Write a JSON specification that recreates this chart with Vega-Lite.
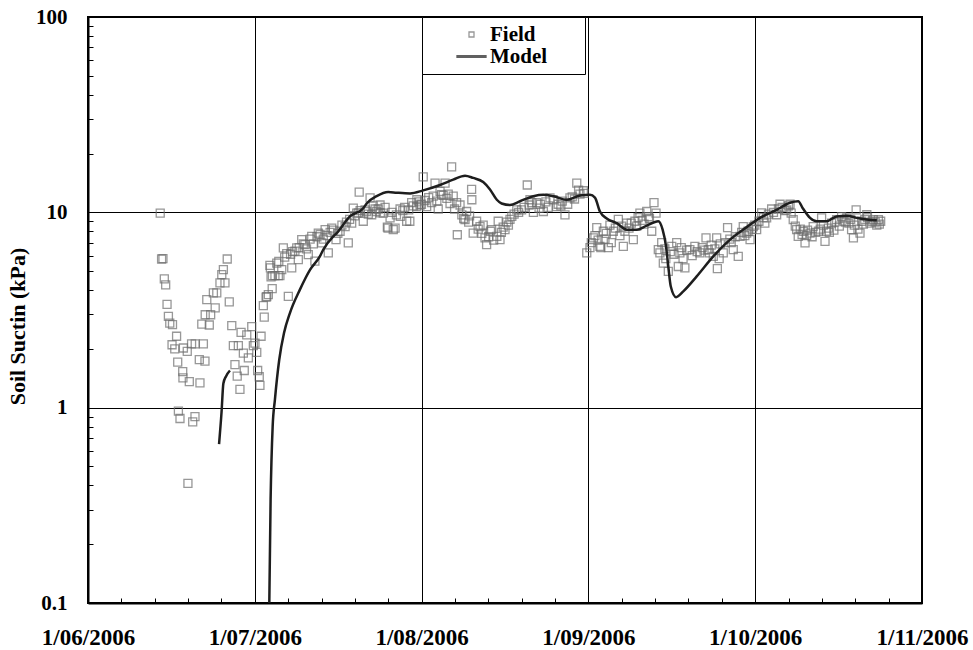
{
  "$schema": "https://vega.github.io/schema/vega-lite/v6.json",
  "width": 834,
  "height": 586,
  "autosize": {"type": "none"},
  "padding": {"left": 88, "top": 17, "right": 51, "bottom": 47},
  "background": "white",
  "config": {
    "view": {"stroke": "black", "strokeWidth": 2},
    "font": "Liberation Serif",
    "axis": {
      "labelFont": "Liberation Serif", "labelFontWeight": "bold", "labelColor": "black",
      "titleFont": "Liberation Serif", "titleFontWeight": "bold", "titleColor": "black",
      "domainColor": "black", "domainWidth": 2, "tickColor": "black", "tickWidth": 1,
      "gridColor": "black", "gridWidth": 1
    },
    "legend": {
      "orient": "none", "legendX": 334, "legendY": 0,
      "title": null,
      "strokeColor": "black", "fillColor": "white",
      "padding": 7,
      "symbolSize": 25,
      "symbolStrokeWidth": 1.3,
      "symbolOffset": 32,
      "labelOffset": 8,
      "rowPadding": 0,
      "labelFont": "Liberation Serif", "labelFontWeight": "bold", "labelFontSize": 21, "labelColor": "black",
      "labelLimit": 0
    }
  },
  "datasets": {
    "field": [
      {"t":"2006-06-14T06:00Z","s":9.9},{"t":"2006-06-14T12:00Z","s":5.77},{"t":"2006-06-14T18:00Z","s":5.8},{"t":"2006-06-15T00:00Z","s":4.56},{"t":"2006-06-15T06:00Z","s":4.25},{"t":"2006-06-15T12:00Z","s":3.38},{"t":"2006-06-15T18:00Z","s":2.93},{"t":"2006-06-16T00:00Z","s":2.71},{"t":"2006-06-16T12:00Z","s":2.66},{"t":"2006-06-16T10:00Z","s":2.1},{"t":"2006-06-16T22:00Z","s":2.0},{"t":"2006-06-17T06:00Z","s":2.32},{"t":"2006-06-17T11:00Z","s":1.71},{"t":"2006-06-17T14:00Z","s":0.96},{"t":"2006-06-17T21:00Z","s":0.88},{"t":"2006-06-18T09:00Z","s":1.53},{"t":"2006-06-18T10:00Z","s":1.42},{"t":"2006-06-18T12:00Z","s":2.02},{"t":"2006-06-19T05:00Z","s":1.94},{"t":"2006-06-19T08:00Z","s":0.41},{"t":"2006-06-19T14:00Z","s":1.36},{"t":"2006-06-20T00:00Z","s":2.12},{"t":"2006-06-20T05:00Z","s":0.845},{"t":"2006-06-20T15:00Z","s":0.9},{"t":"2006-06-20T16:00Z","s":2.12},{"t":"2006-06-21T10:00Z","s":1.76},{"t":"2006-06-21T13:00Z","s":1.34},{"t":"2006-06-21T21:00Z","s":2.68},{"t":"2006-06-22T04:00Z","s":2.12},{"t":"2006-06-22T11:00Z","s":1.73},{"t":"2006-06-22T12:00Z","s":2.99},{"t":"2006-06-22T19:00Z","s":3.57},{"t":"2006-06-23T06:00Z","s":2.65},{"t":"2006-06-23T12:00Z","s":2.99},{"t":"2006-06-24T00:00Z","s":3.87},{"t":"2006-06-24T08:00Z","s":3.24},{"t":"2006-06-24T15:00Z","s":3.87},{"t":"2006-06-25T05:00Z","s":4.35},{"t":"2006-06-25T13:00Z","s":4.8},{"t":"2006-06-25T20:00Z","s":5.09},{"t":"2006-06-26T03:00Z","s":4.35},{"t":"2006-06-26T13:00Z","s":5.77},{"t":"2006-06-26T22:00Z","s":3.48},{"t":"2006-06-27T09:00Z","s":2.63},{"t":"2006-06-27T16:00Z","s":2.08},{"t":"2006-06-27T23:00Z","s":1.66},{"t":"2006-06-28T09:00Z","s":1.45},{"t":"2006-06-28T14:00Z","s":2.08},{"t":"2006-06-28T21:00Z","s":1.24},{"t":"2006-06-29T02:00Z","s":2.43},{"t":"2006-06-29T12:00Z","s":1.9},{"t":"2006-06-29T16:00Z","s":1.55},{"t":"2006-06-30T03:00Z","s":2.36},{"t":"2006-06-30T10:00Z","s":1.8},
      {"t":"2006-07-01T01:00Z","s":2.6},{"t":"2006-07-01T08:00Z","s":2.08},{"t":"2006-07-01T15:00Z","s":2.14},{"t":"2006-07-01T23:00Z","s":1.92},{"t":"2006-07-02T03:00Z","s":1.55},{"t":"2006-07-02T10:00Z","s":1.44},{"t":"2006-07-02T13:00Z","s":1.3},{"t":"2006-07-02T18:00Z","s":2.32},{"t":"2006-07-03T04:00Z","s":3.33},{"t":"2006-07-03T08:00Z","s":2.91},{"t":"2006-07-03T16:00Z","s":3.68},{"t":"2006-07-03T19:00Z","s":3.7},{"t":"2006-07-04T02:00Z","s":3.79},{"t":"2006-07-04T09:00Z","s":5.35},{"t":"2006-07-04T11:00Z","s":5.2},{"t":"2006-07-04T14:00Z","s":4.67},{"t":"2006-07-04T19:00Z","s":4.07},{"t":"2006-07-04T20:00Z","s":4.74},{"t":"2006-07-05T07:00Z","s":4.74},{"t":"2006-07-05T15:00Z","s":5.5},{"t":"2006-07-05T22:00Z","s":4.74},{"t":"2006-07-06T05:00Z","s":4.74},{"t":"2006-07-06T13:00Z","s":5.09},{"t":"2006-07-06T20:00Z","s":6.57},{"t":"2006-07-07T11:00Z","s":6.14},{"t":"2006-07-07T18:00Z","s":3.71},{"t":"2006-07-08T09:00Z","s":5.19},{"t":"2006-07-08T13:00Z","s":6.3},{"t":"2006-07-08T23:00Z","s":6.33},{"t":"2006-07-09T07:00Z","s":6.57},{"t":"2006-07-09T14:00Z","s":5.72},{"t":"2006-07-10T05:00Z","s":7.25},{"t":"2006-07-10T19:00Z","s":6.83},{"t":"2006-07-11T10:00Z","s":6.07},{"t":"2006-07-12T01:00Z","s":7.54},{"t":"2006-07-12T15:00Z","s":5.63},{"t":"2006-07-13T06:00Z","s":7.83},{"t":"2006-07-13T21:00Z","s":6.97},{"t":"2006-07-14T12:00Z","s":8.15},{"t":"2006-07-15T02:00Z","s":6.2},{"t":"2006-07-15T17:00Z","s":8.3},{"t":"2006-07-16T12:00Z","s":7.25},{"t":"2006-07-17T06:00Z","s":8.0},{"t":"2006-07-18T04:00Z","s":8.45},{"t":"2006-07-18T18:00Z","s":6.97},{"t":"2006-07-19T09:00Z","s":8.8},{"t":"2006-07-19T16:00Z","s":10.5},{"t":"2006-07-20T07:00Z","s":9.9},{"t":"2006-07-20T14:00Z","s":9.93},{"t":"2006-07-20T18:00Z","s":12.7},{"t":"2006-07-21T12:00Z","s":9.0},{"t":"2006-07-22T03:00Z","s":10.1},{"t":"2006-07-22T18:00Z","s":11.85},{"t":"2006-07-23T01:00Z","s":9.72},{"t":"2006-07-23T08:00Z","s":10.8},{"t":"2006-07-23T16:00Z","s":10.4},{"t":"2006-07-24T14:00Z","s":10.9},{"t":"2006-07-24T15:00Z","s":9.93},{"t":"2006-07-25T04:00Z","s":9.9},{"t":"2006-07-25T22:00Z","s":8.4},{"t":"2006-07-26T01:00Z","s":8.3},{"t":"2006-07-26T10:00Z","s":9.36},{"t":"2006-07-27T00:00Z","s":8.15},{"t":"2006-07-27T08:00Z","s":8.3},{"t":"2006-07-28T06:00Z","s":10.4},{"t":"2006-07-28T07:00Z","s":9.53},{"t":"2006-07-29T11:00Z","s":9.0},{"t":"2006-07-30T01:00Z","s":9.0},{"t":"2006-07-30T09:00Z","s":11.2},{"t":"2006-07-31T07:00Z","s":10.7},{"t":"2006-07-31T08:00Z","s":11.6},{"t":"2006-07-31T22:00Z","s":10.9},
      {"t":"2006-07-06T00:00Z","s":5.6},{"t":"2006-07-07T02:00Z","s":5.9},{"t":"2006-07-08T04:00Z","s":6.1},{"t":"2006-07-09T18:00Z","s":6.6},{"t":"2006-07-10T12:00Z","s":6.9},{"t":"2006-07-11T02:00Z","s":6.5},{"t":"2006-07-11T18:00Z","s":7.3},{"t":"2006-07-12T08:00Z","s":6.9},{"t":"2006-07-13T00:00Z","s":7.5},{"t":"2006-07-13T14:00Z","s":7.7},{"t":"2006-07-14T04:00Z","s":7.3},{"t":"2006-07-14T20:00Z","s":7.6},{"t":"2006-07-15T10:00Z","s":7.9},{"t":"2006-07-16T00:00Z","s":8.1},{"t":"2006-07-16T20:00Z","s":7.8},{"t":"2006-07-17T14:00Z","s":8.6},{"t":"2006-07-18T10:00Z","s":8.9},{"t":"2006-07-19T00:00Z","s":9.2},{"t":"2006-07-19T22:00Z","s":9.6},{"t":"2006-07-20T22:00Z","s":10.2},{"t":"2006-07-21T20:00Z","s":10.3},{"t":"2006-07-22T10:00Z","s":9.8},{"t":"2006-07-23T22:00Z","s":10.1},{"t":"2006-07-24T06:00Z","s":10.4},{"t":"2006-07-25T12:00Z","s":10.6},{"t":"2006-07-26T18:00Z","s":10.0},{"t":"2006-07-27T14:00Z","s":9.7},{"t":"2006-07-28T18:00Z","s":10.2},{"t":"2006-07-29T02:00Z","s":10.6},{"t":"2006-07-29T20:00Z","s":10.3},{"t":"2006-07-30T16:00Z","s":10.8},{"t":"2006-07-31T16:00Z","s":11.3},
      {"t":"2006-08-01T12:00Z","s":15.2},{"t":"2006-08-02T03:00Z","s":10.7},{"t":"2006-08-03T01:00Z","s":11.2},{"t":"2006-08-03T16:00Z","s":14.1},{"t":"2006-08-04T06:00Z","s":10.4},{"t":"2006-08-04T21:00Z","s":12.3},{"t":"2006-08-05T12:00Z","s":14.1},{"t":"2006-08-06T02:00Z","s":12.4},{"t":"2006-08-06T17:00Z","s":17.1},{"t":"2006-08-07T00:00Z","s":12.1},{"t":"2006-08-07T15:00Z","s":11.2},{"t":"2006-08-07T18:00Z","s":7.68},{"t":"2006-08-08T06:00Z","s":10.9},{"t":"2006-08-09T04:00Z","s":9.18},{"t":"2006-08-09T11:00Z","s":10.1},{"t":"2006-08-10T09:00Z","s":13.1},{"t":"2006-08-10T10:00Z","s":11.6},{"t":"2006-08-10T16:00Z","s":7.83},{"t":"2006-08-11T07:00Z","s":9.0},{"t":"2006-08-11T22:00Z","s":8.45},{"t":"2006-08-12T20:00Z","s":7.4},{"t":"2006-08-13T03:00Z","s":6.83},{"t":"2006-08-14T01:00Z","s":8.15},{"t":"2006-08-15T00:00Z","s":7.54},{"t":"2006-08-15T06:00Z","s":9.0},{"t":"2006-08-15T14:00Z","s":7.25},{"t":"2006-08-16T12:00Z","s":8.15},{"t":"2006-08-17T03:00Z","s":8.6},{"t":"2006-08-17T18:00Z","s":9.53},{"t":"2006-08-18T16:00Z","s":10.3},{"t":"2006-08-19T13:00Z","s":10.3},{"t":"2006-08-20T14:00Z","s":13.8},{"t":"2006-08-21T02:00Z","s":11.6},{"t":"2006-08-21T17:00Z","s":10.0},{"t":"2006-08-22T07:00Z","s":11.2},{"t":"2006-08-23T13:00Z","s":10.1},{"t":"2006-08-24T18:00Z","s":11.85},{"t":"2006-08-25T23:00Z","s":10.7},{"t":"2006-08-27T12:00Z","s":9.7},{"t":"2006-08-28T10:00Z","s":11.85},{"t":"2006-08-29T16:00Z","s":14.1},{"t":"2006-08-30T06:00Z","s":12.4},{"t":"2006-08-30T21:00Z","s":12.9},{"t":"2006-08-31T12:00Z","s":6.2},
      {"t":"2006-08-01T04:00Z","s":11.0},{"t":"2006-08-01T20:00Z","s":11.5},{"t":"2006-08-02T12:00Z","s":11.9},{"t":"2006-08-03T08:00Z","s":12.1},{"t":"2006-08-04T00:00Z","s":11.4},{"t":"2006-08-04T14:00Z","s":12.8},{"t":"2006-08-05T04:00Z","s":12.2},{"t":"2006-08-05T20:00Z","s":11.8},{"t":"2006-08-06T10:00Z","s":11.1},{"t":"2006-08-07T06:00Z","s":10.4},{"t":"2006-08-08T14:00Z","s":9.7},{"t":"2006-08-08T22:00Z","s":9.3},{"t":"2006-08-09T20:00Z","s":8.9},{"t":"2006-08-10T00:00Z","s":9.6},{"t":"2006-08-11T14:00Z","s":8.2},{"t":"2006-08-12T06:00Z","s":7.8},{"t":"2006-08-12T12:00Z","s":8.6},{"t":"2006-08-13T12:00Z","s":7.5},{"t":"2006-08-13T20:00Z","s":8.0},{"t":"2006-08-14T10:00Z","s":7.2},{"t":"2006-08-15T20:00Z","s":7.9},{"t":"2006-08-16T04:00Z","s":8.4},{"t":"2006-08-16T20:00Z","s":8.9},{"t":"2006-08-17T10:00Z","s":9.2},{"t":"2006-08-18T04:00Z","s":9.8},{"t":"2006-08-19T00:00Z","s":10.0},{"t":"2006-08-20T00:00Z","s":10.6},{"t":"2006-08-20T22:00Z","s":10.9},{"t":"2006-08-21T10:00Z","s":11.2},{"t":"2006-08-22T18:00Z","s":10.5},{"t":"2006-08-23T00:00Z","s":11.0},{"t":"2006-08-24T00:00Z","s":11.3},{"t":"2006-08-24T10:00Z","s":10.6},{"t":"2006-08-25T08:00Z","s":11.6},{"t":"2006-08-26T06:00Z","s":11.0},{"t":"2006-08-26T18:00Z","s":10.8},{"t":"2006-08-27T00:00Z","s":11.4},{"t":"2006-08-28T00:00Z","s":11.0},{"t":"2006-08-28T20:00Z","s":12.0},{"t":"2006-08-29T06:00Z","s":11.7},{"t":"2006-08-30T00:00Z","s":13.0},{"t":"2006-08-31T00:00Z","s":12.5},
      {"t":"2006-09-01T02:00Z","s":6.6},{"t":"2006-09-01T17:00Z","s":7.4},{"t":"2006-09-02T08:00Z","s":8.35},{"t":"2006-09-02T22:00Z","s":6.7},{"t":"2006-09-03T02:00Z","s":6.6},{"t":"2006-09-03T13:00Z","s":8.0},{"t":"2006-09-04T11:00Z","s":6.6},{"t":"2006-09-04T18:00Z","s":8.6},{"t":"2006-09-05T09:00Z","s":8.0},{"t":"2006-09-06T07:00Z","s":9.2},{"t":"2006-09-07T05:00Z","s":6.7},{"t":"2006-09-07T20:00Z","s":8.8},{"t":"2006-09-09T01:00Z","s":7.25},{"t":"2006-09-09T08:00Z","s":9.0},{"t":"2006-09-10T06:00Z","s":9.9},{"t":"2006-09-11T12:00Z","s":10.1},{"t":"2006-09-12T10:00Z","s":8.0},{"t":"2006-09-12T20:00Z","s":11.2},{"t":"2006-09-13T05:00Z","s":9.9},{"t":"2006-09-13T15:00Z","s":6.45},{"t":"2006-09-14T06:00Z","s":7.0},{"t":"2006-09-14T13:00Z","s":5.5},{"t":"2006-09-15T11:00Z","s":4.99},{"t":"2006-09-16T02:00Z","s":6.7},{"t":"2006-09-17T00:00Z","s":7.0},{"t":"2006-09-17T07:00Z","s":5.28},{"t":"2006-09-17T14:00Z","s":6.2},{"t":"2006-09-18T12:00Z","s":5.19},{"t":"2006-09-19T10:00Z","s":6.45},{"t":"2006-09-20T08:00Z","s":6.7},{"t":"2006-09-21T06:00Z","s":6.2},{"t":"2006-09-22T09:00Z","s":7.4},{"t":"2006-09-22T19:00Z","s":6.45},{"t":"2006-09-23T17:00Z","s":5.95},{"t":"2006-09-24T08:00Z","s":7.4},{"t":"2006-09-24T11:00Z","s":5.15},{"t":"2006-09-24T19:00Z","s":5.8},{"t":"2006-09-25T13:00Z","s":6.2},{"t":"2006-09-26T08:00Z","s":8.35},{"t":"2006-09-27T09:00Z","s":6.45},{"t":"2006-09-28T07:00Z","s":5.95},{"t":"2006-09-28T15:00Z","s":7.54},{"t":"2006-09-29T05:00Z","s":8.45},{"t":"2006-09-29T20:00Z","s":7.83},{"t":"2006-09-30T11:00Z","s":7.25},
      {"t":"2006-09-01T08:00Z","s":7.0},{"t":"2006-09-02T00:00Z","s":7.6},{"t":"2006-09-02T14:00Z","s":7.2},{"t":"2006-09-03T20:00Z","s":7.3},{"t":"2006-09-04T02:00Z","s":7.8},{"t":"2006-09-05T00:00Z","s":7.0},{"t":"2006-09-05T18:00Z","s":8.3},{"t":"2006-09-06T14:00Z","s":7.6},{"t":"2006-09-06T22:00Z","s":8.5},{"t":"2006-09-07T12:00Z","s":8.0},{"t":"2006-09-08T06:00Z","s":8.3},{"t":"2006-09-08T16:00Z","s":8.8},{"t":"2006-09-09T16:00Z","s":8.5},{"t":"2006-09-09T22:00Z","s":9.4},{"t":"2006-09-10T16:00Z","s":9.1},{"t":"2006-09-11T00:00Z","s":8.7},{"t":"2006-09-11T20:00Z","s":9.5},{"t":"2006-09-12T00:00Z","s":9.3},{"t":"2006-09-13T22:00Z","s":6.2},{"t":"2006-09-14T20:00Z","s":6.5},{"t":"2006-09-15T00:00Z","s":5.8},{"t":"2006-09-15T20:00Z","s":6.3},{"t":"2006-09-16T12:00Z","s":6.1},{"t":"2006-09-17T20:00Z","s":6.6},{"t":"2006-09-18T04:00Z","s":5.8},{"t":"2006-09-18T20:00Z","s":6.4},{"t":"2006-09-19T20:00Z","s":6.0},{"t":"2006-09-20T18:00Z","s":6.3},{"t":"2006-09-21T16:00Z","s":6.6},{"t":"2006-09-22T00:00Z","s":6.4},{"t":"2006-09-23T00:00Z","s":6.2},{"t":"2006-09-23T08:00Z","s":6.8},{"t":"2006-09-24T00:00Z","s":6.5},{"t":"2006-09-25T00:00Z","s":6.9},{"t":"2006-09-25T22:00Z","s":7.0},{"t":"2006-09-26T18:00Z","s":7.3},{"t":"2006-09-27T00:00Z","s":7.0},{"t":"2006-09-27T18:00Z","s":7.5},{"t":"2006-09-28T22:00Z","s":7.9},{"t":"2006-09-29T12:00Z","s":7.6},{"t":"2006-09-30T02:00Z","s":8.0},{"t":"2006-09-30T20:00Z","s":8.2},
      {"t":"2006-10-01T01:00Z","s":8.45},{"t":"2006-10-01T16:00Z","s":8.15},{"t":"2006-10-02T14:00Z","s":9.93},{"t":"2006-10-03T12:00Z","s":9.37},{"t":"2006-10-04T10:00Z","s":10.4},{"t":"2006-10-05T08:00Z","s":9.72},{"t":"2006-10-05T23:00Z","s":11.0},{"t":"2006-10-06T21:00Z","s":10.2},{"t":"2006-10-07T19:00Z","s":11.0},{"t":"2006-10-08T09:00Z","s":9.18},{"t":"2006-10-09T00:00Z","s":8.15},{"t":"2006-10-09T07:00Z","s":7.54},{"t":"2006-10-10T06:00Z","s":8.0},{"t":"2006-10-10T13:00Z","s":6.97},{"t":"2006-10-11T11:00Z","s":7.83},{"t":"2006-10-12T01:00Z","s":8.45},{"t":"2006-10-13T00:00Z","s":8.0},{"t":"2006-10-13T14:00Z","s":9.37},{"t":"2006-10-14T05:00Z","s":7.1},{"t":"2006-10-14T12:00Z","s":8.0},{"t":"2006-10-15T10:00Z","s":8.8},{"t":"2006-10-16T08:00Z","s":9.18},{"t":"2006-10-17T06:00Z","s":9.5},{"t":"2006-10-18T05:00Z","s":9.37},{"t":"2006-10-19T02:00Z","s":8.15},{"t":"2006-10-19T10:00Z","s":7.4},{"t":"2006-10-19T22:00Z","s":10.3},{"t":"2006-10-20T15:00Z","s":7.83},{"t":"2006-10-20T23:00Z","s":9.0},{"t":"2006-10-21T21:00Z","s":9.72},{"t":"2006-10-22T11:00Z","s":8.8},{"t":"2006-10-23T02:00Z","s":9.18},{"t":"2006-10-23T17:00Z","s":8.6},{"t":"2006-10-24T00:00Z","s":9.18},
      {"t":"2006-10-01T08:00Z","s":8.6},{"t":"2006-10-02T02:00Z","s":9.0},{"t":"2006-10-02T22:00Z","s":9.4},{"t":"2006-10-03T04:00Z","s":8.8},{"t":"2006-10-03T20:00Z","s":9.8},{"t":"2006-10-04T18:00Z","s":10.0},{"t":"2006-10-05T16:00Z","s":10.4},{"t":"2006-10-06T08:00Z","s":10.6},{"t":"2006-10-07T04:00Z","s":10.3},{"t":"2006-10-07T12:00Z","s":10.8},{"t":"2006-10-08T00:00Z","s":9.9},{"t":"2006-10-08T18:00Z","s":8.5},{"t":"2006-10-09T16:00Z","s":8.2},{"t":"2006-10-10T00:00Z","s":7.7},{"t":"2006-10-10T20:00Z","s":7.6},{"t":"2006-10-11T00:00Z","s":8.1},{"t":"2006-10-11T20:00Z","s":7.5},{"t":"2006-10-12T12:00Z","s":7.9},{"t":"2006-10-13T08:00Z","s":8.2},{"t":"2006-10-13T22:00Z","s":8.6},{"t":"2006-10-14T20:00Z","s":8.3},{"t":"2006-10-15T00:00Z","s":7.9},{"t":"2006-10-15T20:00Z","s":8.1},{"t":"2006-10-16T00:00Z","s":8.9},{"t":"2006-10-16T20:00Z","s":8.5},{"t":"2006-10-17T16:00Z","s":9.0},{"t":"2006-10-17T22:00Z","s":8.9},{"t":"2006-10-18T14:00Z","s":8.8},{"t":"2006-10-18T22:00Z","s":9.2},{"t":"2006-10-19T14:00Z","s":8.6},{"t":"2006-10-20T06:00Z","s":8.2},{"t":"2006-10-21T06:00Z","s":8.7},{"t":"2006-10-21T12:00Z","s":9.2},{"t":"2006-10-22T00:00Z","s":9.4},{"t":"2006-10-22T20:00Z","s":9.0},{"t":"2006-10-23T10:00Z","s":8.9},{"t":"2006-10-24T04:00Z","s":8.7},{"t":"2006-10-24T10:00Z","s":9.0}
    ],
    "model": [
      {"t":"2006-06-25T01:00Z","s":0.65,"g":1},{"t":"2006-06-25T12:00Z","s":0.95,"g":1},{"t":"2006-06-25T20:00Z","s":1.33,"g":1},{"t":"2006-06-26T08:00Z","s":1.45,"g":1},{"t":"2006-06-27T01:00Z","s":1.55,"g":1},
      {"t":"2006-07-04T03:00Z","s":0.05,"g":2},{"t":"2006-07-04T12:00Z","s":0.34,"g":2},{"t":"2006-07-04T21:00Z","s":0.8,"g":2},{"t":"2006-07-05T07:00Z","s":1.1,"g":2},{"t":"2006-07-06T02:00Z","s":1.76,"g":2},{"t":"2006-07-06T23:00Z","s":2.41,"g":2},{"t":"2006-07-08T01:00Z","s":3.05,"g":2},{"t":"2006-07-09T21:00Z","s":4.02,"g":2},{"t":"2006-07-11T18:00Z","s":5.09,"g":2},{"t":"2006-07-13T13:00Z","s":5.95,"g":2},{"t":"2006-07-14T04:00Z","s":6.44,"g":2},{"t":"2006-07-16T00:00Z","s":7.54,"g":2},{"t":"2006-07-16T15:00Z","s":7.83,"g":2},{"t":"2006-07-19T01:00Z","s":9.53,"g":2},{"t":"2006-07-21T12:00Z","s":10.5,"g":2},{"t":"2006-07-22T03:00Z","s":11.1,"g":2},{"t":"2006-07-23T23:00Z","s":12.1,"g":2},{"t":"2006-07-26T02:00Z","s":12.7,"g":2},{"t":"2006-07-27T15:00Z","s":12.6,"g":2},{"t":"2006-07-30T02:00Z","s":12.5,"g":2},{"t":"2006-08-01T12:00Z","s":12.95,"g":2},{"t":"2006-08-04T14:00Z","s":13.8,"g":2},{"t":"2006-08-07T00:00Z","s":14.7,"g":2},{"t":"2006-08-09T04:00Z","s":15.4,"g":2},{"t":"2006-08-10T16:00Z","s":15.0,"g":2},{"t":"2006-08-12T12:00Z","s":14.3,"g":2},{"t":"2006-08-13T18:00Z","s":13.1,"g":2},{"t":"2006-08-15T00:00Z","s":11.6,"g":2},{"t":"2006-08-15T21:00Z","s":11.1,"g":2},{"t":"2006-08-17T10:00Z","s":10.9,"g":2},{"t":"2006-08-19T06:00Z","s":11.4,"g":2},{"t":"2006-08-21T17:00Z","s":12.1,"g":2},{"t":"2006-08-23T13:00Z","s":12.3,"g":2},{"t":"2006-08-25T09:00Z","s":12.1,"g":2},{"t":"2006-08-27T20:00Z","s":11.6,"g":2},{"t":"2006-08-30T06:00Z","s":12.2,"g":2},{"t":"2006-09-01T02:00Z","s":12.3,"g":2},{"t":"2006-09-02T00:00Z","s":11.9,"g":2},{"t":"2006-09-02T22:00Z","s":10.1,"g":2},{"t":"2006-09-04T04:00Z","s":9.3,"g":2},{"t":"2006-09-06T00:00Z","s":8.8,"g":2},{"t":"2006-09-07T20:00Z","s":8.15,"g":2},{"t":"2006-09-09T16:00Z","s":8.15,"g":2},{"t":"2006-09-11T12:00Z","s":8.55,"g":2},{"t":"2006-09-13T15:00Z","s":9.0,"g":2},{"t":"2006-09-14T10:00Z","s":8.15,"g":2},{"t":"2006-09-15T01:00Z","s":6.7,"g":2},{"t":"2006-09-15T11:00Z","s":5.28,"g":2},{"t":"2006-09-15T22:00Z","s":4.17,"g":2},{"t":"2006-09-16T21:00Z","s":3.68,"g":2},{"t":"2006-09-18T05:00Z","s":3.94,"g":2},{"t":"2006-09-20T16:00Z","s":4.7,"g":2},{"t":"2006-09-23T17:00Z","s":5.95,"g":2},{"t":"2006-09-26T19:00Z","s":7.25,"g":2},{"t":"2006-09-29T20:00Z","s":8.4,"g":2},{"t":"2006-10-02T07:00Z","s":9.37,"g":2},{"t":"2006-10-05T08:00Z","s":10.3,"g":2},{"t":"2006-10-07T19:00Z","s":11.2,"g":2},{"t":"2006-10-09T07:00Z","s":11.4,"g":2},{"t":"2006-10-10T03:00Z","s":10.5,"g":2},{"t":"2006-10-11T11:00Z","s":9.37,"g":2},{"t":"2006-10-12T16:00Z","s":9.0,"g":2},{"t":"2006-10-14T12:00Z","s":9.0,"g":2},{"t":"2006-10-16T08:00Z","s":9.53,"g":2},{"t":"2006-10-18T05:00Z","s":9.6,"g":2},{"t":"2006-10-20T00:00Z","s":9.37,"g":2},{"t":"2006-10-21T21:00Z","s":9.18,"g":2},{"t":"2006-10-23T17:00Z","s":9.1,"g":2}
    ]
  },
  "encoding": {
    "x": {
      "field": "t", "type": "temporal",
      "scale": {"type": "utc", "domain": [1149120000000, 1162339200000], "nice": false},
      "axis": {
        "title": null,
        "values": [1149120000000,1149648768000,1150177536000,1150706304000,1151235072000,1151763840000,1152292608000,1152821376000,1153350144000,1153878912000,1154407680000,1154936448000,1155465216000,1155993984000,1156522752000,1157051520000,1157580288000,1158109056000,1158637824000,1159166592000,1159695360000,1160224128000,1160752896000,1161281664000,1161810432000,1162339200000],
        "labelExpr": "round((datum.value - 1149120000000) / 528768000) % 5 === 0 ? utcFormat(utc(2006, 5 + round((datum.value - 1149120000000) / 2643840000), 1), '%-d/%m/%Y') : ''",
        "grid": true,
        "gridOpacity": {"condition": {"test": "round((datum.value - 1149120000000) / 528768000) % 5 === 0", "value": 1}, "value": 0},
        "tickSize": -5,
        "labelFontSize": 23,
        "labelPadding": 28,
        "labelFlush": false,
        "labelOverlap": false,
        "labelBound": false
      }
    },
    "y": {
      "field": "s", "type": "quantitative",
      "scale": {"type": "log", "domain": [0.1, 100], "nice": false},
      "axis": {
        "title": "Soil Suctin (kPa)",
        "titleFontSize": 22,
        "titleX": -71,
        "titleY": 309,
        "titleAngle": -90,
        "titleAlign": "center",
        "titleBaseline": "middle",
        "values": [0.1,0.2,0.3,0.4,0.5,0.6,0.7,0.8,0.9,1,2,3,4,5,6,7,8,9,10,20,30,40,50,60,70,80,90,100],
        "labelExpr": "abs(log(datum.value)/LN10 - round(log(datum.value)/LN10)) < 0.001 ? format(datum.value, '~g') : ''",
        "grid": true,
        "gridOpacity": {"condition": {"test": "abs(log(datum.value)/LN10 - round(log(datum.value)/LN10)) < 0.001", "value": 1}, "value": 0},
        "tickSize": -5,
        "labelFontSize": 21,
        "labelPadding": 26,
        "labelFlush": false,
        "labelOverlap": false,
        "labelBound": false
      }
    }
  },
  "layer": [
    {
      "data": {"name": "field"},
      "mark": {"type": "point", "filled": false, "size": 64, "strokeWidth": 1.3, "clip": true},
      "encoding": {
        "color": {
          "datum": "Field", "type": "nominal",
          "scale": {"domain": ["Field", "Model"], "range": ["#6d6d6d", "#1e1e1e"]},
          "legend": {"labelExpr": "datum.label + '\u2800\u2800'"}
        },
        "shape": {
          "datum": "Field", "type": "nominal",
          "scale": {"domain": ["Field", "Model"], "range": ["M-1,-1H1V1H-1Z", "M-5.8,-0.3H5.8V0.3H-5.8Z"]},
          "legend": {"labelExpr": "datum.label + '\u2800\u2800'"}
        }
      }
    },
    {
      "data": {"name": "model"},
      "mark": {"type": "line", "strokeWidth": 2.5, "clip": true, "interpolate": "monotone"},
      "encoding": {
        "detail": {"field": "g", "type": "nominal"},
        "color": {"datum": "Model", "type": "nominal", "legend": null}
      }
    }
  ]
}
